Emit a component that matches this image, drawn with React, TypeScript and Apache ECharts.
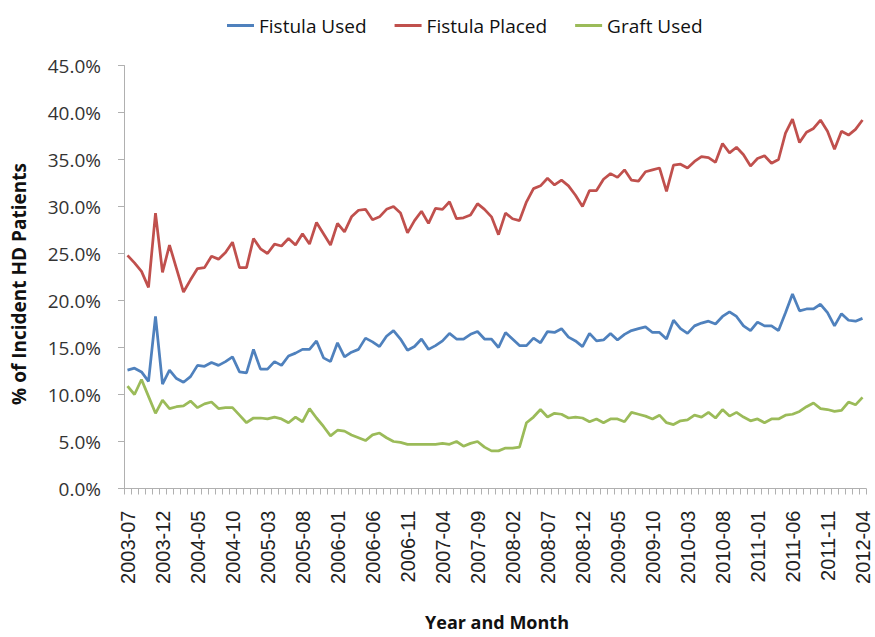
import React, { useEffect, useRef } from "react";
import * as echarts from "echarts";

const startYear = 2003;
const startMonth = 7;
const monthCount = 106;
const months: string[] = [];
for (let i = 0; i < monthCount; i++) {
  const m = startMonth - 1 + i;
  const y = startYear + Math.floor(m / 12);
  const mm = (m % 12) + 1;
  months.push(`${y}-${mm < 10 ? "0" + mm : mm}`);
}

const fistulaUsed = [
  12.6, 12.8, 12.4, 11.4, 18.3, 11.1, 12.6, 11.7, 11.3, 11.9,
  13.1, 13.0, 13.4, 13.1, 13.5, 14.0, 12.4, 12.3, 14.8, 12.7,
  12.7, 13.5, 13.1, 14.1, 14.4, 14.8, 14.8, 15.7, 13.9, 13.5,
  15.5, 14.0, 14.5, 14.8, 16.0, 15.6, 15.1, 16.2, 16.8, 15.9,
  14.7, 15.1, 15.9, 14.8, 15.2, 15.7, 16.5, 15.9, 15.9, 16.4,
  16.7, 15.9, 15.9, 15.0, 16.6, 15.9, 15.2, 15.2, 16.0, 15.5,
  16.7, 16.6, 17.0, 16.1, 15.7, 15.1, 16.5, 15.7, 15.8, 16.5,
  15.8, 16.4, 16.8, 17.0, 17.2, 16.6, 16.6, 15.9, 17.9, 17.0,
  16.5, 17.3, 17.6, 17.8, 17.5, 18.3, 18.8, 18.3, 17.3, 16.8,
  17.7, 17.3, 17.3, 16.8, 18.7, 20.7, 18.9, 19.1, 19.1, 19.6,
  18.7, 17.3, 18.6, 17.9, 17.8, 18.1,
];

const fistulaPlaced = [
  24.8, 24.0, 23.1, 21.4, 29.3, 23.0, 25.9, 23.4, 20.9, 22.2,
  23.4, 23.5, 24.7, 24.4, 25.1, 26.2, 23.5, 23.5, 26.6, 25.5,
  25.0, 26.0, 25.8, 26.6, 25.9, 27.1, 26.0, 28.3, 27.1, 25.9,
  28.2, 27.3, 28.9, 29.6, 29.7, 28.6, 28.9, 29.7, 30.0, 29.3,
  27.2, 28.5, 29.5, 28.2, 29.8, 29.7, 30.5, 28.7, 28.8, 29.1,
  30.3, 29.7, 28.9, 27.0, 29.3, 28.7, 28.5, 30.5, 31.9, 32.2,
  33.0, 32.3, 32.8, 32.2, 31.2, 30.0, 31.7, 31.7, 32.9, 33.5,
  33.1, 33.9, 32.8, 32.7, 33.7, 33.9, 34.1, 31.6, 34.4, 34.5,
  34.1, 34.8, 35.3, 35.2, 34.7, 36.7, 35.7, 36.3, 35.5, 34.3,
  35.1, 35.4, 34.6, 35.0, 37.8, 39.3, 36.8, 37.9, 38.3, 39.2,
  38.0, 36.1, 38.0, 37.6, 38.2, 39.2,
];

const graftUsed = [
  10.9, 10.0, 11.6, 9.8, 8.0, 9.4, 8.5, 8.7, 8.8, 9.3,
  8.6, 9.0, 9.2, 8.5, 8.6, 8.6, 7.8, 7.0, 7.5, 7.5,
  7.4, 7.6, 7.4, 7.0, 7.6, 7.1, 8.5, 7.5, 6.6, 5.6,
  6.2, 6.1, 5.7, 5.4, 5.1, 5.7, 5.9, 5.4, 5.0, 4.9,
  4.7, 4.7, 4.7, 4.7, 4.7, 4.8, 4.7, 5.0, 4.5, 4.8,
  5.0, 4.4, 4.0, 4.0, 4.3, 4.3, 4.4, 7.0, 7.6, 8.4,
  7.6, 8.0, 7.9, 7.5, 7.6, 7.5, 7.1, 7.4, 7.0, 7.4,
  7.4, 7.1, 8.1, 7.9, 7.7, 7.4, 7.8, 7.0, 6.8, 7.2,
  7.3, 7.8, 7.6, 8.1, 7.5, 8.4, 7.7, 8.1, 7.6, 7.2,
  7.4, 7.0, 7.4, 7.4, 7.8, 7.9, 8.2, 8.7, 9.1, 8.5,
  8.4, 8.2, 8.3, 9.2, 8.9, 9.7,
];

const seriesNames = ["Fistula Used", "Fistula Placed", "Graft Used"];
const seriesColors = ["#4F81BD", "#C0504D", "#9BBB59"];

export default function App() {
  const ref = useRef<HTMLDivElement>(null);
  useEffect(() => {
    if (!ref.current) return;
    const chart = echarts.init(ref.current, undefined, { renderer: "svg" });
    const datasets = [fistulaUsed, fistulaPlaced, graftUsed];
    chart.setOption({
      animation: false,
      backgroundColor: "#ffffff",
      legend: {
        data: seriesNames,
        left: 222,
        top: 11,
        icon: "rect",
        itemWidth: 27,
        itemHeight: 3,
        itemGap: 28,
        textStyle: { fontFamily: "Open Sans", fontSize: 19, color: "#111" },
      },
      grid: { left: 124, right: 9, top: 65.5, bottom: 148.5, containLabel: false },
      xAxis: {
        type: "category",
        data: months,
        boundaryGap: true,
        axisLine: { show: true, lineStyle: { color: "#b0b0b0", width: 1 } },
        axisTick: { show: true, interval: 0, length: 6, lineStyle: { color: "#b0b0b0" } },
        axisLabel: {
          interval: 4,
          rotate: 90,
          margin: 22,
          fontFamily: "Liberation Sans",
          fontSize: 20,
          color: "#222",
        },
        splitLine: { show: false },
      },
      yAxis: {
        type: "value",
        min: 0,
        max: 45,
        interval: 5,
        axisLine: { show: true, lineStyle: { color: "#b0b0b0", width: 1 } },
        axisTick: { show: true, length: 6, lineStyle: { color: "#b0b0b0" } },
        axisLabel: {
          margin: 23,
          fontFamily: "Open Sans",
          fontSize: 19,
          color: "#333",
          formatter: (v: number) => v.toFixed(1) + "%",
        },
        splitLine: { show: false },
      },
      graphic: [
        {
          type: "text",
          x: 19,
          y: 284,
          rotation: Math.PI / 2,
          style: {
            text: "% of Incident HD Patients",
            fontFamily: "Open Sans",
            fontWeight: "bold",
            fontSize: 19,
            fill: "#111",
            textAlign: "center",
            textVerticalAlign: "middle",
          },
        },
        {
          type: "text",
          x: 497,
          y: 622,
          style: {
            text: "Year and Month",
            fontFamily: "Open Sans",
            fontWeight: "bold",
            fontSize: 18,
            fill: "#111",
            textAlign: "center",
            textVerticalAlign: "middle",
          },
        },
      ],
      series: datasets.map((d, i) => ({
        name: seriesNames[i],
        type: "line",
        data: d,
        showSymbol: false,
        symbol: "none",
        lineStyle: { color: seriesColors[i], width: 2.75 },
        itemStyle: { color: seriesColors[i] },
      })),
    });
    return () => chart.dispose();
  }, []);
  return (
    <div
      ref={ref}
      style={{ position: "fixed", left: 0, top: 0, width: 875, height: 637, background: "#fff" }}
    />
  );
}
